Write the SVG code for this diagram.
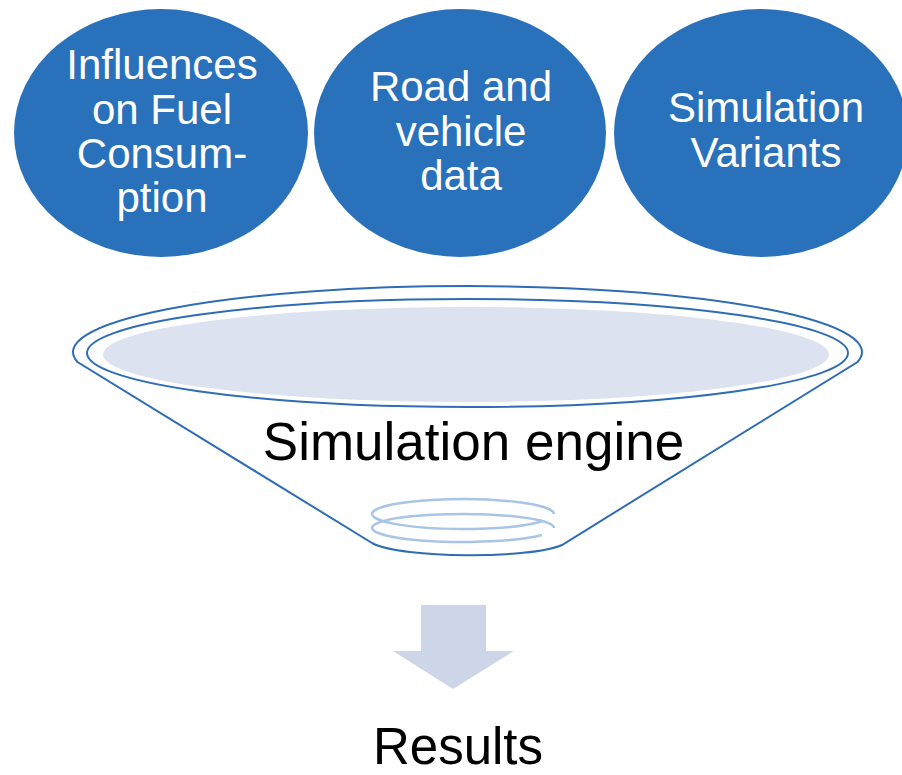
<svg xmlns="http://www.w3.org/2000/svg" width="902" height="775" viewBox="0 0 902 775">
<style>
.bubble{fill:#2A71BB}
.bt{font-family:"Liberation Sans",Arial,sans-serif;font-size:42px;fill:#ffffff;text-anchor:middle}
.fun{fill:none;stroke:#2E6DB6;stroke-width:2}
.spiral{fill:none;stroke:#A8C4E6;stroke-width:2.5}
.big{font-family:"Liberation Sans",Arial,sans-serif;font-size:53px;fill:#000000;text-anchor:middle}
</style>
<rect width="902" height="775" fill="#ffffff"/>
<g id="influences">
<ellipse class="bubble" cx="161" cy="133" rx="147" ry="124"/>
<text class="bt" x="162" y="79">Influences</text>
<text class="bt" x="162" y="123.5">on Fuel</text>
<text class="bt" x="162" y="168">Consum-</text>
<text class="bt" x="162" y="212">ption</text>
</g>
<g id="road">
<ellipse class="bubble" cx="460" cy="133" rx="146" ry="124"/>
<text class="bt" x="461" y="101">Road and</text>
<text class="bt" x="461" y="145.5">vehicle</text>
<text class="bt" x="461" y="190">data</text>
</g>
<g id="variants">
<ellipse class="bubble" cx="761" cy="133" rx="147" ry="124"/>
<text class="bt" x="766" y="122">Simulation</text>
<text class="bt" x="766" y="167">Variants</text>
</g>
<g id="engine">
<path class="fun" d="M 77.5 362 A 394.5 66 0 1 1 857.5 362 L 562 545 C 530 559 402 559 372 543 Z"/>
<ellipse class="fun" cx="467.5" cy="353" rx="380.5" ry="54"/>
<ellipse cx="466" cy="354.5" rx="363" ry="47.5" fill="#DCE2EF"/>
<path class="spiral" d="M 554 514 A 91 15 0 1 0 541.8 521.5"/>
<path class="spiral" d="M 554 528 A 91 14 0 1 0 541.8 535"/>
<text class="big" x="473.5" y="460">Simulation engine</text>
</g>
<g id="connectors">
<path d="M 421 605 L 486 605 L 486 651 L 514 651 L 453 689 L 393 651 L 421 651 Z" fill="#CDD5E8"/>
</g>
<g id="results">
<text class="big" x="458" y="764" style="font-size:51px">Results</text>
</g>
</svg>
